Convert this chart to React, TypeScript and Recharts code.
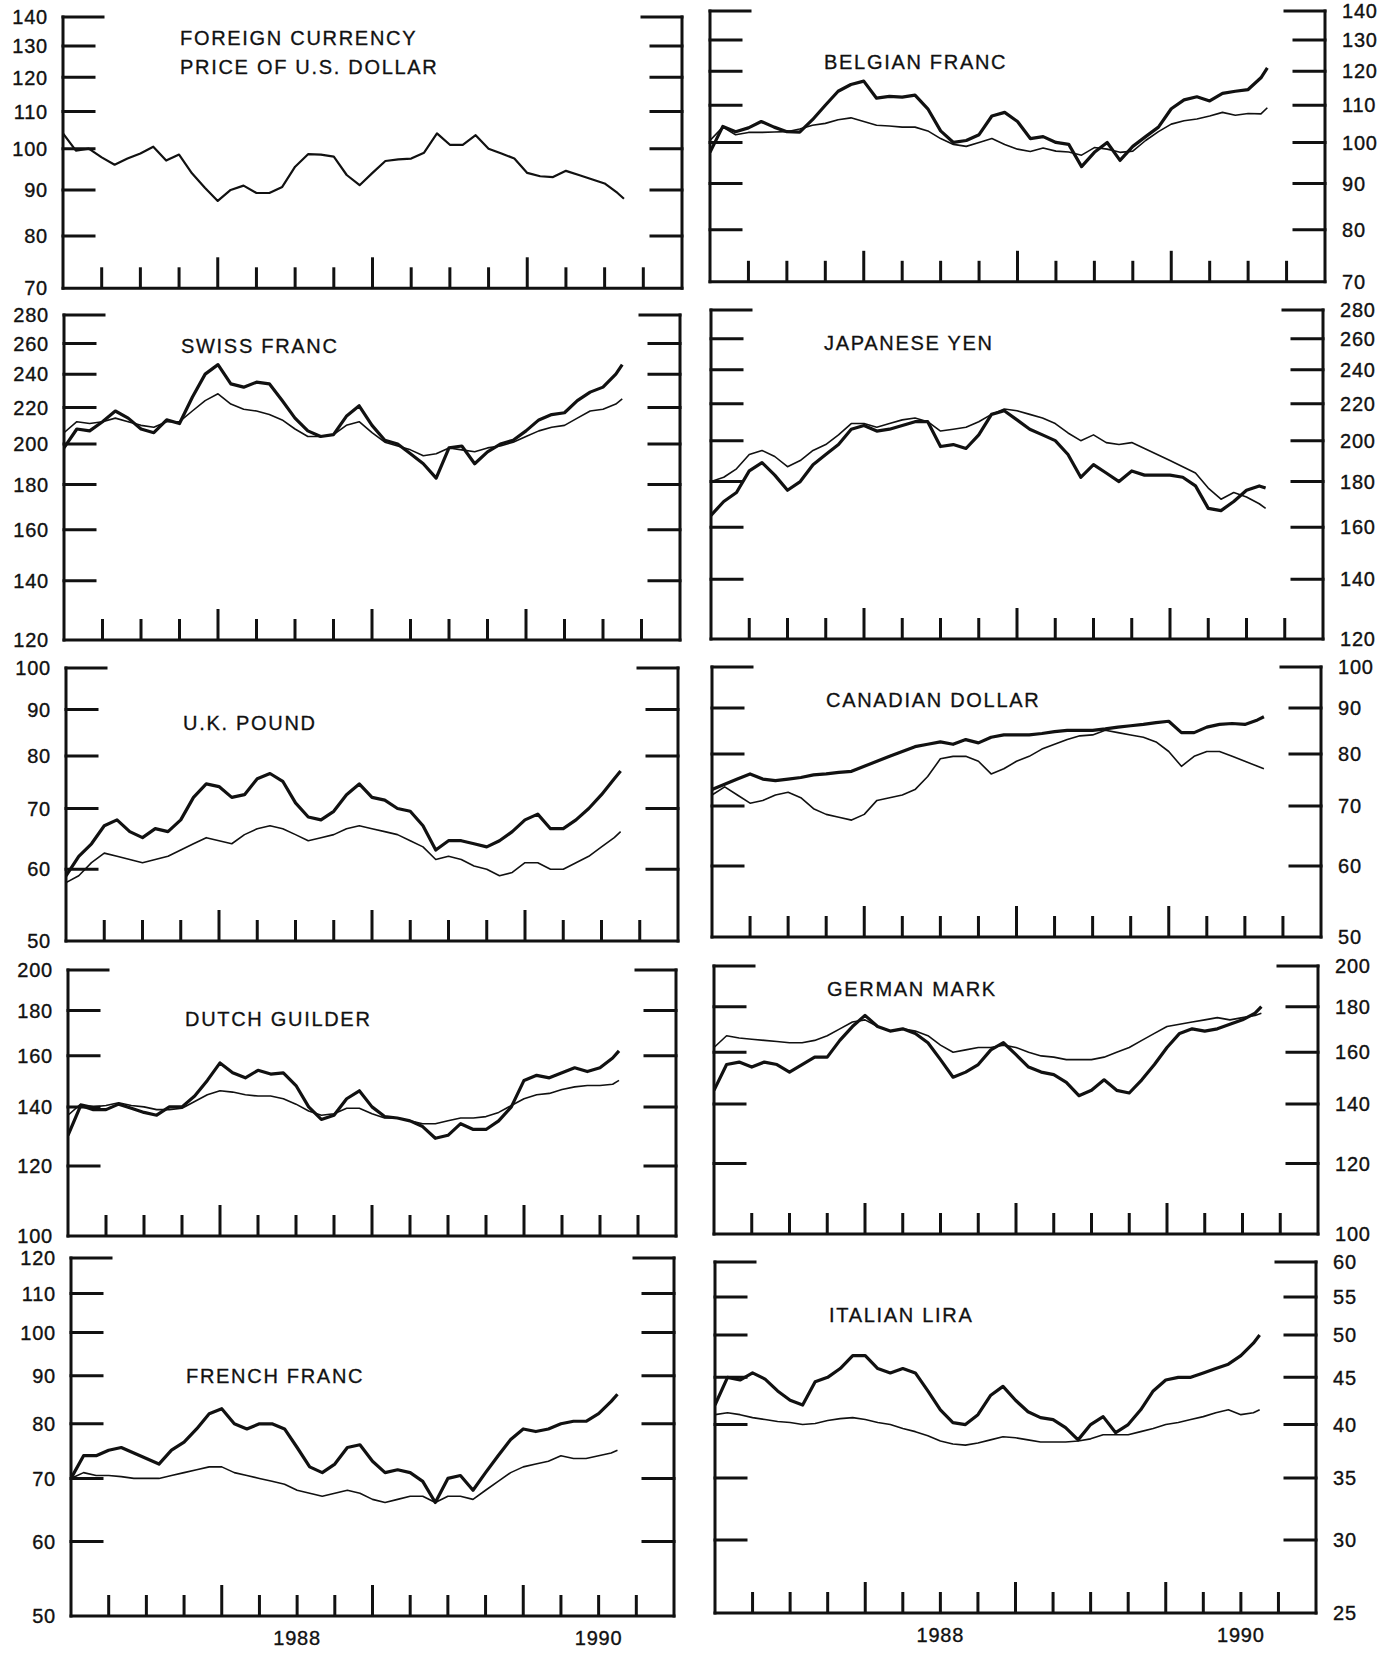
import React from 'react';
import { LineChart, Line, XAxis, YAxis } from 'recharts';

// ---------- categories (months from Jan 1987; last point mid-Aug 1990) ----------
const MONTH_INDEX = [
  0, 1, 2, 3, 4, 5, 6, 7, 8, 9, 10, 11, 12, 13, 14, 15, 16, 17, 18, 19, 20, 21, 22,
  23, 24, 25, 26, 27, 28, 29, 30, 31, 32, 33, 34, 35, 36, 37, 38, 39, 40, 41, 42, 43, 43.5,
];
const DATES = MONTH_INDEX.map((m) => 1987 + m / 12);

const QUARTER_TICKS = [
  1987.25, 1987.5, 1987.75, 1988, 1988.25, 1988.5, 1988.75, 1989, 1989.25, 1989.5,
  1989.75, 1990, 1990.25, 1990.5, 1990.75,
];
const YEAR_LABEL_AT = [1988.5, 1990.5];
const YEAR_LABEL_TEXT = ['1988', '1990'];

// ---------- tick labels ----------
const TICKS_70_140 = [70, 80, 90, 100, 110, 120, 130, 140];
const TICKS_120_280 = [120, 140, 160, 180, 200, 220, 240, 260, 280];
const TICKS_50_100 = [50, 60, 70, 80, 90, 100];
const TICKS_100_200 = [100, 120, 140, 160, 180, 200];
const TICKS_50_120 = [50, 60, 70, 80, 90, 100, 110, 120];
const TICKS_25_60 = [25, 30, 35, 40, 45, 50, 55, 60];

// ---------- series ----------
const USD = [104, 99.5, 100, 97.8, 96, 97.5, 98.8, 100.5, 97, 98.5, 93.9, 90.5, 87.5, 90, 91, 89.3, 89.3, 90.7, 95.5, 98.6, 98.5, 98, 93.5, 91.1, 94, 96.9, 97.3, 97.5, 99, 104, 101, 101, 103.5, 100, 98.8, 97.5, 94, 93.2, 93, 94.5, 93.5, 92.5, 91.5, 89.3, 88];

const BEF_THICK = [97.5, 104.2, 102.8, 103.8, 105.5, 104, 102.8, 102.7, 106, 110, 114, 116, 117, 112, 112.5, 112.3, 112.9, 109, 103, 100, 100.5, 102, 107, 108, 105.5, 101, 101.5, 100, 99.5, 94, 97.5, 100, 95.5, 99, 101.5, 104, 109, 111.5, 112.4, 111.2, 113.4, 114, 114.5, 118, 121];
const BEF_THIN = [100.5, 104, 102, 102.6, 102.6, 102.7, 102.8, 103.5, 104.5, 105, 106, 106.5, 105.5, 104.5, 104.3, 104, 104, 103, 101, 99.5, 99, 100, 101, 99.5, 98.3, 97.7, 98.6, 97.8, 97.6, 96.8, 98.7, 98.3, 97.5, 97.8, 100.5, 102.8, 104.8, 105.7, 106.2, 107, 108, 107.2, 107.7, 107.6, 109.3];

const CHF_THICK = [198, 208, 207, 212, 218, 214, 208, 206, 213, 211, 226, 240, 246, 234, 232, 235, 234, 224, 214, 207, 204, 205, 215, 221, 210, 202, 200, 195, 190, 183, 198, 199, 190, 196, 200, 202, 207, 213, 216, 217, 224, 229, 232, 240, 246];
const CHF_THIN = [206, 212, 211, 212, 214, 212, 210, 209, 212, 212, 218, 224, 228, 222, 219, 218, 216, 213, 208, 204, 204, 205, 210, 212, 206, 201, 199, 197, 194, 195, 198, 197, 196, 198, 199, 201, 204, 207, 209, 210, 214, 218, 219, 222, 225];

const JPY_THICK = [165, 171, 175, 185, 189, 183, 176, 180, 188, 193, 198, 206, 208, 205, 206, 208, 210, 210, 197, 198, 196, 203, 214, 216, 211, 206, 203, 200, 193, 182, 188, 184, 180, 185, 183, 183, 183, 182, 178, 168, 167, 171, 176, 178, 177];
const JPY_THIN = [180, 182, 186, 193, 195, 192, 187, 190, 195, 198, 203, 209, 209, 207, 209, 211, 212, 210, 205, 206, 207, 210, 214, 217, 216, 214, 212, 209, 204, 200, 203, 199, 198, 199, 196, 193, 190, 187, 184, 177, 172, 175, 173, 170, 168];

const GBP_THICK = [59, 62, 64, 67, 68, 66, 65, 66.5, 66, 68, 72, 74.5, 74, 72, 72.5, 75.5, 76.5, 75, 71, 68.5, 68, 69.5, 72.5, 74.5, 72, 71.5, 70, 69.5, 67, 63, 64.5, 64.5, 64, 63.5, 64.5, 66, 68, 69, 66.5, 66.5, 68, 70, 72.5, 75.5, 77];
const GBP_THIN = [58, 59, 61, 62.5, 62, 61.5, 61, 61.5, 62, 63, 64, 65, 64.5, 64, 65.5, 66.5, 67, 66.5, 65.5, 64.5, 65, 65.5, 66.5, 67, 66.5, 66, 65.5, 64.5, 63.5, 61.5, 62, 61.5, 60.5, 60, 59, 59.5, 61, 61, 60, 60, 61, 62, 63.5, 65, 66];

const CAD_THICK = [73, 74, 75, 76, 75, 74.7, 75, 75.3, 75.8, 76, 76.3, 76.5, 77.5, 78.5, 79.5, 80.5, 81.5, 82, 82.5, 82, 83, 82.3, 83.5, 84, 84, 84, 84.3, 84.7, 85, 85, 85, 85.3, 85.7, 86, 86.3, 86.7, 87, 84.5, 84.5, 85.7, 86.3, 86.5, 86.3, 87.3, 88];
const CAD_THIN = [72, 73.5, 72, 70.5, 71, 72, 72.5, 71.5, 69.5, 68.5, 68, 67.5, 68.5, 71, 71.5, 72, 73, 75.5, 79, 79.5, 79.5, 78.5, 76, 77, 78.5, 79.5, 81, 82, 83, 83.8, 84, 85, 84.5, 84, 83.5, 82.5, 80.5, 77.5, 79.5, 80.5, 80.5, 79.5, 78.5, 77.5, 77];

const NLG_THICK = [130, 140.5, 139, 139, 141, 139.5, 138, 137, 140, 140, 144, 150, 157, 153, 151, 154, 152.5, 153, 148, 140, 135.5, 137, 143, 146, 140, 136.5, 136, 135, 133, 129, 130, 134, 132, 132, 135, 140, 150, 152, 151, 153, 155, 153.5, 155, 159, 162];
const NLG_THIN = [137, 141, 140, 140.5, 141.5, 140.5, 140, 139, 139, 139.5, 142, 144.5, 146, 145.5, 144.5, 144, 144, 143, 141, 138.5, 137, 137.5, 139.5, 139.5, 137.5, 136, 136, 135, 134, 134, 135, 136, 136, 136.5, 138, 140.5, 143, 144.5, 145, 146.5, 147.5, 148, 148, 148.5, 150];

const DEM_THICK = [145, 155, 156, 154, 156, 155, 152, 155, 158, 158, 165, 171, 176, 171, 169, 170, 168, 164, 157, 150, 152, 155, 161, 164, 159, 154, 152, 151, 148, 143, 145, 149, 145, 144, 149, 155, 162, 168, 170, 169, 170, 172, 174, 177, 180];
const DEM_THIN = [162, 167, 166, 165.5, 165, 164.5, 164, 164, 165, 167, 170, 173, 174, 171, 169, 170, 169, 167, 163, 160, 161, 162, 162, 163, 162, 160, 158.5, 158, 157, 157, 157, 158, 160, 162, 165, 168, 171, 172, 173, 174, 175, 174, 175, 176, 177];

const FRF_THICK = [70, 74, 74, 75, 75.5, 74.5, 73.5, 72.5, 75, 76.5, 79, 82, 83, 80, 79, 80, 80, 79, 75.5, 72, 71, 72.5, 75.5, 76, 73, 71, 71.5, 71, 69.5, 66, 70, 70.5, 68, 71, 74, 77, 79, 78.5, 79, 80, 80.5, 80.5, 82, 84.5, 86];
const FRF_THIN = [70, 71, 70.5, 70.5, 70.3, 70, 70, 70, 70.5, 71, 71.5, 72, 72, 71, 70.5, 70, 69.5, 69, 68, 67.5, 67, 67.5, 68, 67.5, 66.5, 66, 66.5, 67, 67, 66, 67, 67, 66.5, 68, 69.5, 71, 72, 72.5, 73, 74, 73.5, 73.5, 74, 74.5, 75];

const ITL_THICK = [42, 45, 44.7, 45.5, 44.8, 43.5, 42.5, 42, 44.5, 45, 46, 47.5, 47.5, 46, 45.5, 46, 45.5, 43.5, 41.5, 40.2, 40, 41, 43, 44, 42.5, 41.3, 40.7, 40.5, 39.7, 38.5, 40, 40.8, 39.2, 40, 41.5, 43.5, 44.7, 45, 45, 45.5, 46, 46.5, 47.5, 49, 50];
const ITL_THIN = [41, 41.2, 41, 40.7, 40.5, 40.3, 40.2, 40, 40.1, 40.4, 40.6, 40.7, 40.5, 40.2, 40, 39.6, 39.3, 38.9, 38.4, 38.1, 38, 38.2, 38.5, 38.8, 38.7, 38.5, 38.3, 38.3, 38.3, 38.4, 38.6, 39, 39, 39, 39.3, 39.6, 40, 40.2, 40.5, 40.8, 41.2, 41.5, 41, 41.2, 41.5];

// ---------- layout / style ----------
const FONT = '"Liberation Sans", Arial, Helvetica, sans-serif';
const INK = '#111';

type PanelDef = {
  title: string[];
  titleX: number;
  titleY: number;
  ticks: number[];
  thick: number[] | null;
  thin: number[];
  side: 'left' | 'right';
  box: [number, number, number, number]; // L, T, R, B of plot area
  bottom: boolean;
};

const PANELS: PanelDef[] = [
  { title: ['FOREIGN CURRENCY', 'PRICE OF U.S. DOLLAR'], titleX: 180, titleY: 45, ticks: TICKS_70_140, thick: null, thin: USD, side: 'left', box: [63, 16.7, 682, 288], bottom: false },
  { title: ['BELGIAN FRANC'], titleX: 824, titleY: 69, ticks: TICKS_70_140, thick: BEF_THICK, thin: BEF_THIN, side: 'right', box: [710, 10.7, 1325, 281.5], bottom: false },
  { title: ['SWISS FRANC'], titleX: 181, titleY: 353, ticks: TICKS_120_280, thick: CHF_THICK, thin: CHF_THIN, side: 'left', box: [64, 315, 680, 640], bottom: false },
  { title: ['JAPANESE YEN'], titleX: 824, titleY: 350, ticks: TICKS_120_280, thick: JPY_THICK, thin: JPY_THIN, side: 'right', box: [711, 310, 1323, 639], bottom: false },
  { title: ['U.K. POUND'], titleX: 183, titleY: 730, ticks: TICKS_50_100, thick: GBP_THICK, thin: GBP_THIN, side: 'left', box: [66, 668, 678, 941], bottom: false },
  { title: ['CANADIAN DOLLAR'], titleX: 826, titleY: 707, ticks: TICKS_50_100, thick: CAD_THICK, thin: CAD_THIN, side: 'right', box: [712, 667, 1321, 937], bottom: false },
  { title: ['DUTCH GUILDER'], titleX: 185, titleY: 1026, ticks: TICKS_100_200, thick: NLG_THICK, thin: NLG_THIN, side: 'left', box: [68, 970, 676, 1236], bottom: false },
  { title: ['GERMAN MARK'], titleX: 827, titleY: 996, ticks: TICKS_100_200, thick: DEM_THICK, thin: DEM_THIN, side: 'right', box: [714, 966, 1318, 1234], bottom: false },
  { title: ['FRENCH FRANC'], titleX: 186, titleY: 1383, ticks: TICKS_50_120, thick: FRF_THICK, thin: FRF_THIN, side: 'left', box: [71, 1258, 674, 1616], bottom: true },
  { title: ['ITALIAN LIRA'], titleX: 829, titleY: 1322, ticks: TICKS_25_60, thick: ITL_THICK, thin: ITL_THIN, side: 'right', box: [715, 1262, 1316, 1613], bottom: true },
];

const AXIS_LINE = { stroke: INK, strokeWidth: 3, strokeLinecap: 'square' as const };

function YTick(props: any) {
  const { x, y, payload, dir, showLabel, min, max } = props;
  const v = payload.value;
  const isTop = v === max;
  const isBottom = v === min;
  const len = isTop ? 40 : 31;
  return (
    <g>
      {!isBottom && (
        <line x1={x} x2={x + dir * len} y1={y} y2={y} stroke={INK} strokeWidth={3} strokeLinecap="square" />
      )}
      {showLabel && (
        <text
          x={dir === 1 ? x - 15 : x + 17}
          y={y}
          dy="0.36em"
          textAnchor={dir === 1 ? 'end' : 'start'}
          fontFamily={FONT}
          fontSize={20}
          letterSpacing={0.8}
          fill={INK}
          stroke={INK}
          strokeWidth={0.35}
        >
          {v}
        </text>
      )}
    </g>
  );
}

function XTick(props: any) {
  const { x, y, payload, showYear } = props;
  const v = payload.value;
  const long = Number.isInteger(v);
  const len = long ? 31 : 21;
  const li = YEAR_LABEL_AT.indexOf(v);
  return (
    <g>
      <line x1={x} x2={x} y1={y} y2={y - len} stroke={INK} strokeWidth={3} />
      {showYear && li >= 0 && (
        <text
          x={x}
          y={y + 29}
          textAnchor="middle"
          fontFamily={FONT}
          fontSize={20}
          letterSpacing={0.8}
          fill={INK}
          stroke={INK}
          strokeWidth={0.35}
        >
          {YEAR_LABEL_TEXT[li]}
        </text>
      )}
    </g>
  );
}

function Panel({ p }: { p: PanelDef }) {
  const [L, T, R, B] = p.box;
  const M = {
    top: 14,
    right: p.side === 'right' ? 72 : 12,
    bottom: p.bottom ? 40 : 12,
    left: p.side === 'left' ? 62 : 12,
  };
  const w = R - L;
  const h = B - T;
  const min = p.ticks[0];
  const max = p.ticks[p.ticks.length - 1];
  const data = DATES.map((x, i) => ({
    x,
    a: p.thick ? p.thick[i] : null,
    b: p.thin[i],
  }));
  // axes take 1px each (a 0-size axis is not rendered), so margins are reduced by 1
  const margin = { top: M.top, right: M.right - 1, bottom: M.bottom - 1, left: M.left - 1 };
  return (
    <div style={{ position: 'absolute', left: L - M.left, top: T - M.top }}>
      <LineChart width={w + M.left + M.right} height={h + M.top + M.bottom} data={data} margin={margin}>
        <XAxis
          dataKey="x"
          type="number"
          domain={[1987, 1991]}
          allowDataOverflow
          ticks={QUARTER_TICKS}
          interval={0}
          height={1}
          tickSize={0}
          tickMargin={0}
          axisLine={AXIS_LINE}
          tickLine={false}
          tick={(tp: any) => <XTick {...tp} showYear={p.bottom} />}
        />
        <YAxis
          yAxisId="l"
          orientation="left"
          scale="log"
          type="number"
          domain={[min, max]}
          allowDataOverflow
          ticks={p.ticks}
          interval={0}
          width={1}
          tickSize={0}
          tickMargin={0}
          axisLine={AXIS_LINE}
          tickLine={false}
          tick={(tp: any) => <YTick {...tp} dir={1} showLabel={p.side === 'left'} min={min} max={max} />}
        />
        <YAxis
          yAxisId="r"
          orientation="right"
          scale="log"
          type="number"
          domain={[min, max]}
          allowDataOverflow
          ticks={p.ticks}
          interval={0}
          width={1}
          tickSize={0}
          tickMargin={0}
          axisLine={AXIS_LINE}
          tickLine={false}
          tick={(tp: any) => <YTick {...tp} dir={-1} showLabel={p.side === 'right'} min={min} max={max} />}
        />
        <Line
          yAxisId="l"
          dataKey="b"
          type="linear"
          stroke={INK}
          strokeWidth={p.thick ? 1.6 : 2.2}
          strokeLinejoin="round"
          dot={false}
          activeDot={false}
          isAnimationActive={false}
        />
        {p.thick && (
          <Line
            yAxisId="l"
            dataKey="a"
            type="linear"
            stroke={INK}
            strokeWidth={3.2}
            strokeLinejoin="round"
            dot={false}
            activeDot={false}
            isAnimationActive={false}
          />
        )}
      </LineChart>
    </div>
  );
}

export default function App() {
  return (
    <div style={{ position: 'absolute', left: 0, top: 0, width: 1397, height: 1653, background: '#fff', overflow: 'hidden' }}>
      {PANELS.map((p, i) => (
        <Panel key={i} p={p} />
      ))}
      <svg width={1397} height={1653} style={{ position: 'absolute', left: 0, top: 0, pointerEvents: 'none' }}>
        {PANELS.map((p, i) => (
          <g key={i}>
            {p.title.map((t, j) => (
              <text
                key={j}
                x={p.titleX}
                y={p.titleY + j * 29}
                fontFamily={FONT}
                fontSize={20}
                letterSpacing={1.7}
                fill={INK}
                stroke={INK}
                strokeWidth={0.3}
              >
                {t}
              </text>
            ))}
          </g>
        ))}
      </svg>
    </div>
  );
}
